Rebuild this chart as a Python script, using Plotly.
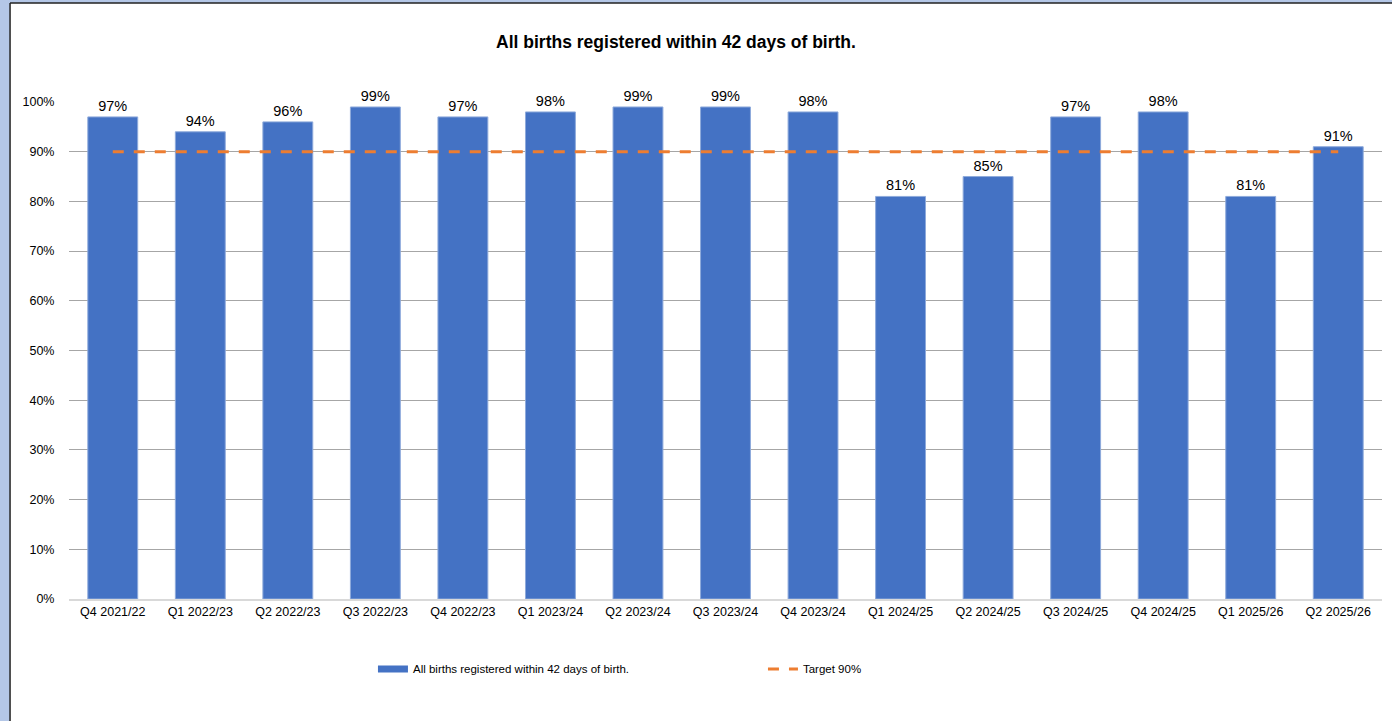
import plotly.graph_objects as go

# Quarterly share of births registered within 42 days (percent)
quarters = ["Q4 2021/22", "Q1 2022/23", "Q2 2022/23", "Q3 2022/23", "Q4 2022/23",
            "Q1 2023/24", "Q2 2023/24", "Q3 2023/24", "Q4 2023/24", "Q1 2024/25",
            "Q2 2024/25", "Q3 2024/25", "Q4 2024/25", "Q1 2025/26", "Q2 2025/26"]
registered_pct = [97, 94, 96, 99, 97, 98, 99, 99, 98, 81, 85, 97, 98, 81, 91]
target_pct = [90] * len(quarters)

series_name = "All births registered within 42 days of birth."
target_name = "Target 90%"

FONT = "Liberation Sans, Arial, sans-serif"
BLUE = "#4472C4"
ORANGE = "#ED7D31"

fig = go.Figure()
fig.add_trace(go.Bar(
    x=quarters,
    y=[v / 100 for v in registered_pct],
    name=series_name,
    showlegend=False,
    legendgroup="births",
    marker=dict(color=BLUE, line=dict(color="#8eaadb", width=1)),
    texttemplate="%{y:.0%}",
    textposition="outside",
    textfont=dict(family=FONT, size=14.5, color="#000000"),
    cliponaxis=False,
))
# Legend key for the bars drawn as a short thick stroke
fig.add_trace(go.Scatter(
    x=[None], y=[None],
    name=series_name,
    legendgroup="births",
    mode="lines",
    line=dict(color=BLUE, width=7),
))
fig.add_trace(go.Scatter(
    x=quarters,
    y=[v / 100 for v in target_pct],
    name=target_name,
    mode="lines",
    line=dict(color=ORANGE, width=3, dash="11px,10px"),
))

# Frame: lavender surround with a white chart panel outlined in dark grey
shapes = [
    dict(type="rect", xref="paper", yref="paper", x0=-0.0449, x1=1.03, y0=-0.3, y1=1.1992,
         fillcolor="white", line=dict(width=0), layer="below"),
    dict(type="line", xref="paper", yref="paper", x0=-0.0449, x1=-0.0449, y0=-0.3, y1=1.1992,
         line=dict(color="#222222", width=1.5), layer="below"),
    dict(type="line", xref="paper", yref="paper", x0=-0.0449, x1=1.03, y0=1.1992, y1=1.1992,
         line=dict(color="#222222", width=1.5), layer="below"),
]

fig.update_layout(
    width=1392, height=721,
    margin=dict(l=69, r=10, t=102, b=122),
    paper_bgcolor="#B4C7E7",
    plot_bgcolor="white",
    shapes=shapes,
    bargap=0.43,
    font=dict(family=FONT, size=12, color="#000000"),
    title=dict(text="<b>All births registered within 42 days of birth.</b>",
               x=0.4623, xanchor="center", xref="paper",
               y=0.9417, yanchor="middle",
               font=dict(family=FONT, size=17.5, color="#000000")),
    legend=dict(orientation="h", x=0.2315, xanchor="left", y=-0.1408, yanchor="middle",
                entrywidth=345, font=dict(family=FONT, size=11.5, color="#000000"),
                bgcolor="rgba(0,0,0,0)"),
    xaxis=dict(showgrid=False, showline=True, linecolor="#d9d9d9", linewidth=2,
               ticks="", tickfont=dict(family=FONT, size=12.5)),
    yaxis=dict(range=[0, 1], dtick=0.1, tickformat=".0%", showgrid=True,
               gridcolor="#a6a6a6", gridwidth=1, zeroline=False,
               ticks="outside", ticklen=11, tickcolor="rgba(0,0,0,0)",
               tickfont=dict(family=FONT, size=12.5)),
)

fig.write_html("out.html")
